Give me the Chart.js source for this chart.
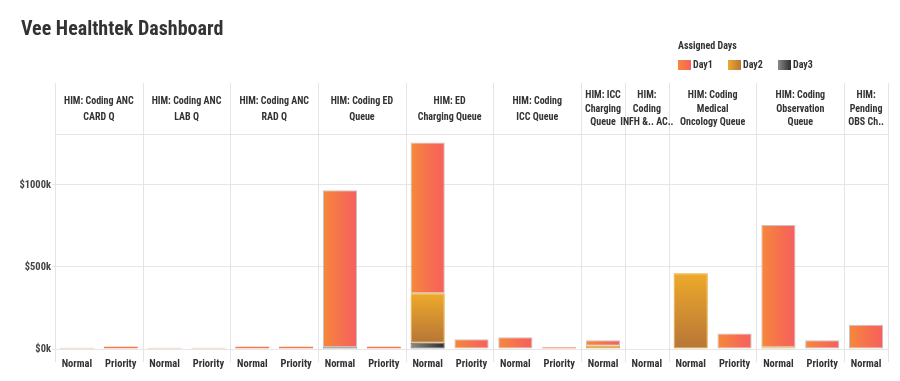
<!DOCTYPE html>
<html>
<head>
<meta charset="utf-8">
<script src="https://cdn.jsdelivr.net/npm/chart.js@4.4.1/dist/chart.umd.min.js"></script>
<style>
  html, body { margin: 0; padding: 0; background: #fff; }
  #wrap { width: 900px; height: 381px; position: relative; }
</style>
</head>
<body>
<div id="wrap"><canvas id="dash"></canvas></div>
<script>
// Data (values in $k)
const panelTitles = [
  ['HIM: Coding ANC', 'CARD Q'],
  ['HIM: Coding ANC', 'LAB Q'],
  ['HIM: Coding ANC', 'RAD Q'],
  ['HIM: Coding ED', 'Queue'],
  ['HIM: ED', 'Charging Queue'],
  ['HIM: Coding', 'ICC Queue'],
  ['HIM: ICC', 'Charging', 'Queue'],
  ['HIM:', 'Coding', 'INFH &.. AC..'],
  ['HIM: Coding', 'Medical', 'Oncology Queue'],
  ['HIM: Coding', 'Observation', 'Queue'],
  ['HIM:', 'Pending', 'OBS Ch..']
];
const panelQueues = [
  ['Normal', 'Priority'],
  ['Normal', 'Priority'],
  ['Normal', 'Priority'],
  ['Normal', 'Priority'],
  ['Normal', 'Priority'],
  ['Normal', 'Priority'],
  ['Normal'],
  ['Normal'],
  ['Normal', 'Priority'],
  ['Normal', 'Priority'],
  ['Normal']
];
const day1 = [8, 15, 8, 8, 15, 15, 958, 15, 919, 59, 71, 10, 33, 0, 0, 95, 745, 53, 148];
const day2 = [0, 0, 0, 0, 0, 0, 0, 0, 301, 0, 0, 0, 20, 0, 461, 0, 10, 0, 0];
const day3 = [0, 0, 0, 0, 0, 0, 10, 0, 38, 0, 0, 0, 0, 0, 0, 0, 0, 0, 0];
const yTicks = [0, 500, 1000];
const yMax = 1310;

const labels = panelQueues.flat();
const FONT = '"Roboto Condensed", "Open Sans", sans-serif';

// gradient helpers
function barBox(ctx, lowArr, highArr) {
  const chart = ctx.chart;
  const x = chart.scales.x, y = chart.scales.y;
  if (!x || !y || !chart.chartArea) return null;
  const i = ctx.dataIndex;
  const slot = (x.right - x.left) / labels.length;
  const cx = x.getPixelForValue(i);
  const w = slot * 0.78;
  let lo = 0;
  lowArr.forEach(a => lo += a[i]);
  let hi = lo;
  highArr.forEach(a => hi += a[i]);
  return { l: cx - w / 2, r: cx + w / 2, b: y.getPixelForValue(lo), t: y.getPixelForValue(hi) };
}

function day1Fill(ctx) {
  const b = barBox(ctx, [day3, day2], [day1]);
  if (!b) return '#f6784a';
  const g = ctx.chart.ctx.createLinearGradient(b.l, 0, b.r, 0);
  g.addColorStop(0, '#f6883a');
  g.addColorStop(0.55, '#f6704f');
  g.addColorStop(1, '#f7605e');
  return g;
}
function day2Fill(ctx) {
  const b = barBox(ctx, [day3], [day2]);
  if (!b) return '#dd9a2e';
  const g = ctx.chart.ctx.createLinearGradient(0, b.t, 0, b.b);
  g.addColorStop(0, '#eeaa2a');
  g.addColorStop(1, '#b77537');
  return g;
}
function day3Fill(ctx) {
  const b = barBox(ctx, [], [day3]);
  if (!b) return '#555';
  const g = ctx.chart.ctx.createLinearGradient(b.l, 0, b.r, 0);
  g.addColorStop(0, '#8a8a8a');
  g.addColorStop(1, '#2e2e2e');
  return g;
}
// thin bars keep their colour instead of a grey outline
function day1Border(ctx) {
  return day1[ctx.dataIndex] < 30 ? '#f3784a' : 'rgba(150,150,150,0.55)';
}

// facet headers, separators, title and legend
const facets = {
  id: 'facets',
  beforeDatasetsDraw(chart) {
    const c = chart.ctx, x = chart.scales.x, area = chart.chartArea;
    const slot = (x.right - x.left) / labels.length;
    c.save();
    c.strokeStyle = '#e4e4e4';
    c.lineWidth = 1;
    c.beginPath();
    c.moveTo(area.left, Math.round(area.top) + 0.5);
    c.lineTo(area.right, Math.round(area.top) + 0.5);
    c.stroke();
    let k = 0;
    const bounds = [0];
    panelQueues.forEach(q => { k += q.length; bounds.push(k); });
    bounds.forEach(n => {
      const px = Math.round(x.left + n * slot) + 0.5;
      c.beginPath();
      c.moveTo(px, 83);
      c.lineTo(px, 362);
      c.stroke();
    });
    c.fillStyle = '#333';
    c.font = 'bold 10px ' + FONT;
    c.textAlign = 'center';
    c.textBaseline = 'middle';
    panelTitles.forEach((lines, p) => {
      const cx = x.left + (bounds[p] + bounds[p + 1]) / 2 * slot;
      const lh = lines.length === 3 ? 13.5 : 16;
      const start = 109 - (lines.length - 1) * lh / 2;
      lines.forEach((t, j) => c.fillText(t, cx, start + j * lh));
    });
    c.restore();
  },
  afterDraw(chart) {
    const c = chart.ctx;
    c.save();
    c.fillStyle = '#333';
    c.textAlign = 'left';
    c.textBaseline = 'middle';
    c.font = 'bold 20px ' + FONT;
    c.fillText('Vee Healthtek Dashboard', 21, 30);
    c.font = 'bold 10px ' + FONT;
    c.fillText('Assigned Days', 678, 46);
    const items = [
      { label: 'Day1', x: 678, fill: ['#f6883a', '#f7605e'] },
      { label: 'Day2', x: 728, fill: ['#eeaa2a', '#b77537'] },
      { label: 'Day3', x: 778, fill: ['#8a8a8a', '#2e2e2e'] }
    ];
    items.forEach(it => {
      const g = c.createLinearGradient(it.x, 0, it.x + 13, 0);
      g.addColorStop(0, it.fill[0]);
      g.addColorStop(1, it.fill[1]);
      c.fillStyle = g;
      c.fillRect(it.x, 60, 13, 10);
      c.fillStyle = '#333';
      c.fillText(it.label, it.x + 15, 65.5);
    });
    c.restore();
  }
};

const orNull = arr => arr.map(v => v || null);

new Chart(document.getElementById('dash'), {
  type: 'bar',
  data: {
    labels: labels,
    datasets: [
      { label: 'Day3', data: orNull(day3), backgroundColor: day3Fill, borderColor: '#6a6a6a', borderWidth: 1 },
      { label: 'Day2', data: orNull(day2), backgroundColor: day2Fill, borderColor: '#e9a52c', borderWidth: 1 },
      { label: 'Day1', data: orNull(day1), backgroundColor: day1Fill, borderColor: day1Border, borderWidth: 1 }
    ]
  },
  options: {
    responsive: true,
    maintainAspectRatio: false,
    animation: false,
    layout: { padding: { left: 0, right: 12, top: 134, bottom: 12 } },
    datasets: { bar: { categoryPercentage: 1, barPercentage: 0.78, borderSkipped: false } },
    plugins: { legend: { display: false }, tooltip: { enabled: false } },
    scales: {
      x: {
        stacked: true,
        grid: { display: false },
        border: { display: false },
        afterFit(s) { s.height = 20; },
        ticks: {
          autoSkip: false, maxRotation: 0, padding: 1,
          color: '#333', font: { family: FONT, size: 10.5, weight: 'bold' }
        }
      },
      y: {
        stacked: true,
        min: 0,
        max: yMax,
        afterFit(s) { s.width = 55; },
        afterBuildTicks(s) { s.ticks = yTicks.map(v => ({ value: v })); },
        grid: { color: '#e6e6e6', tickLength: 3 },
        border: { display: false },
        ticks: {
          padding: 1,
          color: '#444',
          font: { family: FONT, size: 10.5, weight: 'bold' },
          callback: v => '$' + v + 'k'
        }
      }
    }
  },
  plugins: [facets]
});
</script>
</body>
</html>
